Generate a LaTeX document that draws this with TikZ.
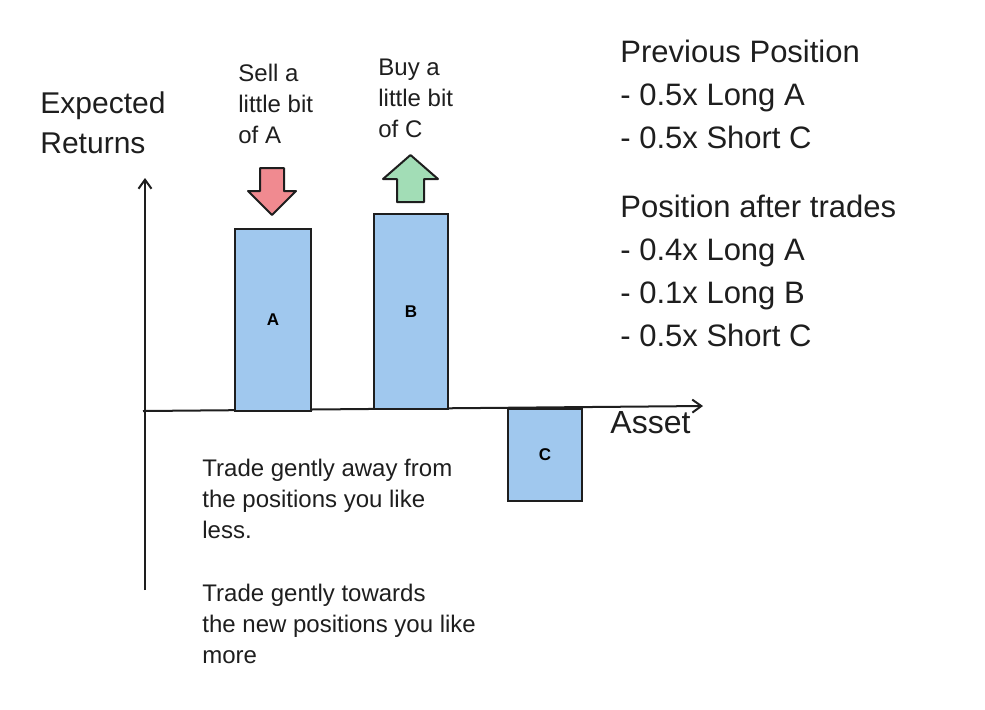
\documentclass[tikz,border=0pt]{standalone}
\usepackage{fontspec}
\setmainfont{Liberation Sans}
\usetikzlibrary{arrows.meta}
\definecolor{ink}{HTML}{1E1E1E}
\definecolor{barblue}{HTML}{A0C8EE}
\definecolor{sellred}{HTML}{F08A90}
\definecolor{buygreen}{HTML}{A2DDB6}
\tikzstyle{axis}=[draw=ink, line width=1pt, -{Straight Barb[length=4.5pt, width=6.5pt]}]
\tikzstyle{bar}=[draw=ink, fill=barblue, line width=1pt, anchor=north west, inner sep=0pt, font=\bfseries\fontsize{8.5}{10}\selectfont]
\tikzstyle{trade arrow}=[draw=ink, line width=1pt, line join=round]
\tikzstyle{note}=[anchor=base west, inner sep=0pt, align=left, text=ink, font=\fontsize{12}{15.5}\selectfont]
\tikzstyle{big note}=[note, font=\fontsize{15.5}{21.5}\selectfont]

\begin{document}
\begin{tikzpicture}[x=0.5pt, y=-0.5pt]
  \useasboundingbox (0, 0) rectangle (985, 709);
  \coordinate (origin) at (143, 411);
  \coordinate (y end) at (145, 178);
  \coordinate (y start) at (145, 590);
  \coordinate (x end) at (703, 406);
  \draw[axis] (y start) -- (y end);
  \draw[axis] (origin) -- (x end);
  \node[bar, minimum width=38pt, minimum height=91pt] (A) at (234, 228) {A};
  \node[bar, minimum width=37pt, minimum height=97.5pt] (B) at (373, 213) {B};
  \node[bar, minimum width=37pt, minimum height=46pt] (C) at (507, 408) {C};
  \draw[trade arrow, fill=sellred] (260, 168) -- (284, 168) -- (284, 191) -- (296, 191)
    -- (272, 215) -- (248, 191) -- (260, 191) -- cycle;
  \draw[trade arrow, fill=buygreen] (397, 202) -- (424, 202) -- (424, 179) -- (438, 179)
    -- (410.5, 155) -- (383, 179) -- (397, 179) -- cycle;
  \node[note, font=\fontsize{15}{20}\selectfont] (returns) at (40, 153) {Expected\\Returns};
  \node[note, font=\fontsize{16}{20}\selectfont] (asset) at (610, 433) {Asset};
  \node[note] (sell) at (238, 143) {Sell a\\little bit\\of A};
  \node[note] (buy) at (378, 137) {Buy a\\little bit\\of C};
  \node[note] (away) at (202, 538) {Trade gently away from\\the positions you like\\less.};
  \node[note] (towards) at (202, 663) {Trade gently towards\\the new positions you like\\more};
  \node[big note] (previous) at (620, 148) {Previous Position\\- 0.5x Long A\\- 0.5x Short C};
  \node[big note] (after) at (620, 346) {Position after trades\\- 0.4x Long A\\- 0.1x Long B\\- 0.5x Short C};
\end{tikzpicture}
\end{document}
